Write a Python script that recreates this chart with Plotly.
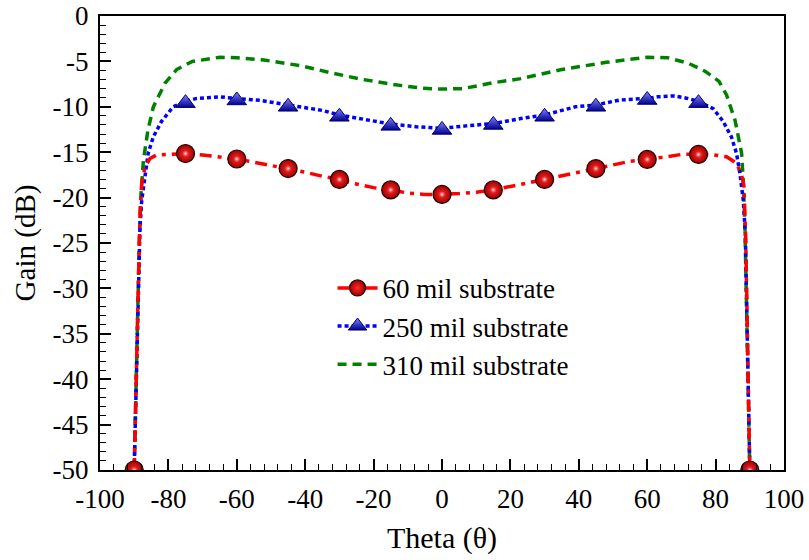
import plotly.graph_objects as go

# ---- data ----
theta_60 = [-90, -89.6, -89, -88.3, -87.8, -86.8, -85.4, -83.4, -80, -75, -70, -65, -60, -55, -50, -45, -40,
            -35, -30, -25, -20, -15, -10, -5, 0, 5, 10, 15, 20, 25, 30, 35, 40, 45, 50, 55, 60, 65, 70, 75,
            79.3, 83.2, 86.1, 87.6, 88.3, 88.8, 89.3, 90]
gain_60 = [-50, -42, -33, -21.7, -18.4, -16.6, -15.7, -15.3, -15.2, -15.15, -15.3, -15.5, -15.75, -16.1, -16.45,
           -16.8, -17.2, -17.65, -18.0, -18.5, -18.9, -19.15, -19.5, -19.65, -19.65, -19.55, -19.4, -19.15,
           -18.8, -18.4, -18.0, -17.6, -17.2, -16.8, -16.35, -16.0, -15.75, -15.55, -15.25, -15.2,
           -15.3, -15.5, -16.2, -17.5, -18.8, -24.5, -35, -50]

theta_250 = [-90, -89.5, -89, -88.3, -87.8, -86.8, -85.9, -84.4, -82, -78.6, -75, -72, -65, -60, -53, -45,
             -41.5, -35, -30, -22, -15, -7.5, 0, 7, 15, 23, 30, 39, 45, 52, 60, 63, 68, 71.5, 75, 79.3, 82.2,
             84.6, 86.1, 87.1, 88.1, 88.7, 89.3, 90]
gain_250 = [-50, -41, -33, -23.2, -20.3, -17.3, -15.1, -13.3, -11.6, -10.0, -9.4, -9.1, -8.9, -9.1, -9.3, -9.8,
            -10.0, -10.4, -10.9, -11.45, -11.9, -12.2, -12.37, -12.1, -11.85, -11.3, -10.9, -10.0, -9.8,
            -9.25, -9.07, -8.9, -8.8, -9.05, -9.4, -10.2, -11.6, -13.3, -15.1, -17.3, -20.3, -24, -35, -50]

theta_310 = [-90, -89.5, -89, -88.5, -88, -87.3, -86, -84.4, -81, -77.6, -73, -65, -60, -52, -41, -32, -23,
             -15, -6, 0, 6, 10, 15, 23, 35, 48, 60, 66, 72, 77, 81, 83.2, 85.7, 87.6, 88.1, 88.6, 89.3, 90]
gain_310 = [-50, -40, -31, -24.7, -19.5, -15.9, -12.6, -10.0, -7.4, -5.9, -5.0, -4.55, -4.6, -4.85, -5.5, -6.3,
            -7.0, -7.5, -7.95, -8.05, -8.0, -7.7, -7.35, -6.9, -5.9, -5.1, -4.55, -4.6, -5.2, -6.1, -7.2,
            -8.7, -11.5, -15.1, -18.2, -23.6, -35, -50]

marker_theta = [-90, -75, -60, -45, -30, -15, 0, 15, 30, 45, 60, 75, 90]
marker_60 = [-50, -15.15, -15.75, -16.8, -18.0, -19.15, -19.65, -19.15, -18.0, -16.8, -15.8, -15.25, -50]
marker_250 = [-50, -9.6, -9.3, -10.0, -11.1, -12.1, -12.55, -12.0, -11.1, -10.0, -9.25, -9.6, -50]

series_names = ["60 mil substrate", "250 mil substrate", "310 mil substrate"]

x_ticks = [-100, -80, -60, -40, -20, 0, 20, 40, 60, 80, 100]
y_ticks = [0, -5, -10, -15, -20, -25, -30, -35, -40, -45, -50]

FONT = "'Times New Roman', 'Liberation Serif', serif"
RED_DASH = "12px,6px,4px,6px"
BLUE_DASH = "4px,3px"
GREEN_DASH = "9px,6px"

red_marker = dict(symbol="circle", size=18, color="#a00000",
                  gradient=dict(type="radial", color="#ff2a2a"),
                  line=dict(color="#200000", width=1.2))
red_hl = dict(symbol="circle", size=7, color="rgba(255,80,80,0)",
              gradient=dict(type="radial", color="rgba(255,255,255,0.95)"), line=dict(width=0))
blue_marker = dict(symbol="triangle-up", size=17, color="#8080ff",
                   gradient=dict(type="vertical", color="#00008b"),
                   line=dict(color="#000070", width=1))

fig = go.Figure()

# lines
fig.add_trace(go.Scatter(x=theta_310, y=gain_310, mode="lines", showlegend=False,
                         line=dict(color="#008000", width=3.5, dash=GREEN_DASH)))
fig.add_trace(go.Scatter(x=theta_250, y=gain_250, mode="lines", showlegend=False,
                         line=dict(color="#0000ff", width=3.5, dash=BLUE_DASH)))
fig.add_trace(go.Scatter(x=theta_60, y=gain_60, mode="lines", showlegend=False,
                         line=dict(color="#ff0000", width=3.5, dash=RED_DASH)))
# markers
fig.add_trace(go.Scatter(x=marker_theta, y=marker_250, mode="markers", showlegend=False, marker=blue_marker))
fig.add_trace(go.Scatter(x=marker_theta, y=marker_60, mode="markers", showlegend=False, marker=red_marker))
fig.add_trace(go.Scatter(x=marker_theta, y=marker_60, mode="markers", showlegend=False, marker=red_hl,
                         hoverinfo="skip"))

# legend entries
fig.add_trace(go.Scatter(x=[None], y=[None], mode="lines+markers", name=series_names[0],
                         line=dict(color="#ff0000", width=3.5, dash=RED_DASH), marker=red_marker))
fig.add_trace(go.Scatter(x=[None], y=[None], mode="lines+markers", name=series_names[1],
                         line=dict(color="#0000ff", width=3.5, dash=BLUE_DASH), marker=blue_marker))
fig.add_trace(go.Scatter(x=[None], y=[None], mode="lines", name=series_names[2],
                         line=dict(color="#008000", width=3.5, dash=GREEN_DASH)))

axis_common = dict(showgrid=False, zeroline=False, showline=True, linecolor="black", linewidth=2,
                   mirror=True, ticks="inside", ticklen=11, tickwidth=1.5, tickcolor="black",
                   automargin=False, tickfont=dict(family=FONT, size=27, color="black"))

fig.update_xaxes(range=[-100, 100], tickvals=x_ticks, ticktext=[str(v) for v in x_ticks],
                 minor=dict(dtick=4, tick0=0, ticks="inside", ticklen=6, tickwidth=1.2, tickcolor="black"),
                 title=dict(text="Theta (θ)", font=dict(family=FONT, size=30, color="black"), standoff=14),
                 ticklabelstandoff=4, **axis_common)
fig.update_yaxes(range=[-50, 0], tickvals=y_ticks, ticktext=[str(v) for v in y_ticks],
                 minor=dict(dtick=1, tick0=0, ticks="inside", ticklen=6, tickwidth=1.2, tickcolor="black"),
                 title=dict(text="Gain (dB)", font=dict(family=FONT, size=29, color="black"), standoff=8),
                 ticklabelstandoff=4, **axis_common)

fig.update_layout(
    width=809, height=560,
    margin=dict(l=100, r=25, t=16, b=90),
    paper_bgcolor="white", plot_bgcolor="white",
    font=dict(family=FONT, color="black"),
    legend=dict(x=0.34, y=0.454, xanchor="left", yanchor="top", bgcolor="rgba(0,0,0,0)",
                font=dict(family=FONT, size=27, color="black"), tracegroupgap=0, itemwidth=40),
)

fig.write_html("out.html", config={"displayModeBar": False},
               post_script="document.body.style.margin='0px';document.body.style.overflow='hidden';")
